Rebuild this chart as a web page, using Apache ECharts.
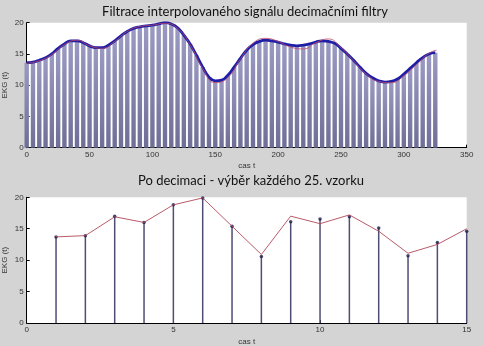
<!DOCTYPE html>
<html><head><meta charset="utf-8">
<script src="https://cdn.jsdelivr.net/npm/echarts@6/dist/echarts.min.js"></script>
<style>html,body{margin:0;padding:0;background:#d4d4d4;}#c{width:484px;height:346px;}</style>
</head><body><div id="c"></div>
<script>
// Top plot: filtered signal samples (x every 5 units)
const topX = [0,5,10,15,20,25,30,35,40,45,50,55,60,65,70,75,80,85,90,95,100,105,110,115,120,125,130,135,140,145,150,155,160,165,170,175,180,185,190,195,200,205,210,215,220,225,230,235,240,245,250,255,260,265,270,275,280,285,290,295,300,305,310,315,320,325];
const topY = [13.6,13.7,14.0,14.4,15.0,15.9,16.6,17.1,17.1,16.8,16.3,16.0,16.0,16.4,17.1,17.9,18.6,19.1,19.35,19.5,19.6,19.8,20.0,19.8,19.2,18.0,16.6,14.8,12.9,11.3,10.7,10.8,11.6,12.9,14.3,15.6,16.5,17.0,17.2,17.1,16.9,16.6,16.4,16.3,16.4,16.6,16.9,17.1,17.0,16.7,15.9,15.0,14.0,12.9,11.9,11.2,10.7,10.5,10.6,11.0,11.8,12.7,13.6,14.4,15.0,15.2];
// Top plot: interpolated (reference) signal
const refX = [0,10,20,30,40,50,60,70,80,90,100,110,120,130,140,150,160,170,180,190,200,210,220,230,240,250,260,270,280,290,300,310,320,326];
const refY = [13.5,13.9,14.9,16.5,17.2,16.3,15.9,17.0,18.6,19.4,19.6,19.9,19.1,16.5,12.7,10.4,11.2,14.2,16.7,17.5,17.0,16.1,15.8,16.8,17.4,16.0,13.9,11.8,10.6,10.4,11.5,13.3,15.1,15.6];
// Bottom plot: every 25th sample
const decX = [1,2,3,4,5,6,7,8,9,10,11,12,13,14,15];
const decY = [13.7,13.9,17.0,16.0,18.8,19.9,15.4,10.6,16.1,16.55,16.9,15.1,10.7,12.8,14.6];
const decLineY = [13.7,13.9,16.9,16.0,18.8,19.9,15.4,10.9,17.0,15.8,17.2,14.6,11.1,12.5,15.0];
const yTicks = {min:0,max:20,interval:5};

const pair = (xs, ys) => xs.map((x,i)=>[x, ys[i]]);
const chart = echarts.init(document.getElementById('c'), null, {renderer:'canvas'});
const axLabel = {color:'#333', fontSize:8, fontFamily:'Liberation Sans', margin:3};
const axLine = {show:true, onZero:false, lineStyle:{color:'#000', width:1}};
const axTick = {show:true, inside:true, length:3, lineStyle:{color:'#000'}};
const nameStyle = {color:'#333', fontSize:8, fontFamily:'Liberation Sans'};

chart.setOption({
  backgroundColor:'#d4d4d4',
  animation:false,
  title:[
    {text:'Filtrace interpolovaného signálu decimačními filtry', left:240, top:0, textAlign:'center',
     textStyle:{fontSize:13, fontWeight:'normal', color:'#111', fontFamily:'Lato'}},
    {text:'Po decimaci - výběr každého 25. vzorku', left:246, top:169, textAlign:'center',
     textStyle:{fontSize:13, fontWeight:'normal', color:'#111', fontFamily:'Lato'}}
  ],
  grid:[
    {left:26.7, right:17.3, top:22.7, height:125, show:true, backgroundColor:'#fff', borderWidth:0, outerBoundsMode:'none', containLabel:false},
    {left:26.7, right:17.3, top:197.3, height:125.7, show:true, backgroundColor:'#fff', borderWidth:0, outerBoundsMode:'none', containLabel:false}
  ],
  xAxis:[
    {gridIndex:0, type:'value', min:0, max:350, interval:50, axisLine:axLine, axisTick:axTick, axisLabel:axLabel,
     splitLine:{show:false}, name:'cas t', nameLocation:'middle', nameGap:14, nameMoveOverlap:false, nameTextStyle:nameStyle},
    {gridIndex:1, type:'value', min:0, max:15, interval:5, axisLine:axLine, axisTick:axTick, axisLabel:axLabel,
     splitLine:{show:false}, name:'cas t', nameLocation:'middle', nameGap:15, nameMoveOverlap:false, nameTextStyle:nameStyle}
  ],
  yAxis:[
    {gridIndex:0, type:'value', min:yTicks.min, max:yTicks.max, interval:yTicks.interval, axisLine:axLine, axisTick:axTick, axisLabel:axLabel,
     splitLine:{show:false}, name:'EKG (t)', nameLocation:'middle', nameGap:18, nameMoveOverlap:false, nameTextStyle:nameStyle},
    {gridIndex:1, type:'value', min:yTicks.min, max:yTicks.max, interval:yTicks.interval, axisLine:axLine, axisTick:axTick, axisLabel:axLabel,
     splitLine:{show:false}, name:'EKG (t)', nameLocation:'middle', nameGap:18, nameMoveOverlap:false, nameTextStyle:nameStyle}
  ],
  series:[
    {type:'bar', xAxisIndex:0, yAxisIndex:0, data:pair(topX, topY), barWidth:4.4,
     itemStyle:{color:new echarts.graphic.LinearGradient(0,0,0,1,[{offset:0,color:'#9a9ac2'},{offset:1,color:'#6e6e96'}])}},
    {type:'line', xAxisIndex:0, yAxisIndex:0, data:pair(topX, topY), smooth:true, showSymbol:false,
     lineStyle:{color:'#1e1ea6', width:2.8}},
    {type:'line', xAxisIndex:0, yAxisIndex:0, data:pair(refX, refY), smooth:true, showSymbol:false,
     lineStyle:{color:'#c04a6a', width:0.8}},
    {type:'bar', xAxisIndex:1, yAxisIndex:1, data:pair(decX, decY), barWidth:1.5,
     itemStyle:{color:'#4e4e74'}},
    {type:'line', xAxisIndex:1, yAxisIndex:1, data:pair(decX, decLineY), showSymbol:false,
     lineStyle:{color:'#b04858', width:0.9}},
    {type:'scatter', xAxisIndex:1, yAxisIndex:1, data:pair(decX, decY), symbolSize:3.5,
     itemStyle:{color:'#1a1a4a'}}
  ]
});
</script></body></html>
